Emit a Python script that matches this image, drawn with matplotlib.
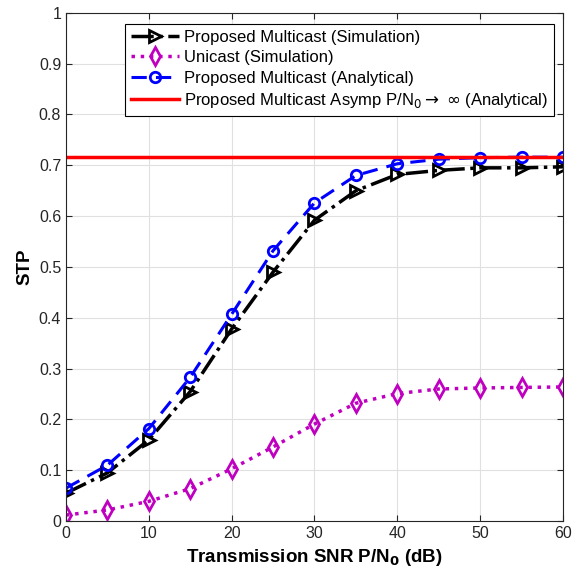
import matplotlib
matplotlib.use("Agg")
import matplotlib.pyplot as plt
import numpy as np

plt.rcParams['font.family'] = ['Liberation Sans', 'DejaVu Sans']
plt.rcParams['mathtext.fontset'] = 'dejavusans'

snr_db = [0, 5, 10, 15, 20, 25, 30, 35, 40, 45, 50, 55, 60]
multicast_sim = [0.055, 0.095, 0.160, 0.255, 0.378, 0.490, 0.592, 0.650, 0.682, 0.690, 0.695, 0.695, 0.697]
unicast_sim = [0.012, 0.022, 0.039, 0.064, 0.103, 0.146, 0.191, 0.232, 0.251, 0.260, 0.262, 0.263, 0.264]
multicast_ana = [0.065, 0.110, 0.182, 0.283, 0.407, 0.532, 0.626, 0.680, 0.703, 0.712, 0.715, 0.716, 0.716]
asymp_value = 0.717

xticks = [0, 10, 20, 30, 40, 50, 60]
yticks = [0, 0.1, 0.2, 0.3, 0.4, 0.5, 0.6, 0.7, 0.8, 0.9, 1]
yticklabels = ['0', '0.1', '0.2', '0.3', '0.4', '0.5', '0.6', '0.7', '0.8', '0.9', '1']

fig = plt.figure(figsize=(5.84, 5.81), dpi=100)
ax = fig.add_axes([0.113, 0.103, 0.851, 0.875])

ax.plot(snr_db, multicast_sim, color='black', linestyle='-.', linewidth=2.5,
        marker='>', markersize=9, markerfacecolor='none', markeredgewidth=2,
        label='Proposed Multicast (Simulation)')
ax.plot(snr_db, unicast_sim, color='#C000C0', linestyle=':', linewidth=2.5,
        marker='d', markersize=9, markerfacecolor='none', markeredgewidth=2,
        label='Unicast (Simulation)')
ax.plot(snr_db, multicast_ana, color='#0000FF', linestyle=(0, (5, 3)), linewidth=2.2,
        marker='o', markersize=7.5, markerfacecolor='none', markeredgewidth=2,
        label='Proposed Multicast (Analytical)')
ax.axhline(asymp_value, color='#FF0000', linewidth=2.5,
           label=r'Proposed Multicast Asymp P/N$_0$$\rightarrow$ $\infty$ (Analytical)')

ax.set_xlim(0, 60)
ax.set_ylim(0, 1)
ax.set_xticks(xticks)
ax.set_yticks(yticks)
ax.set_yticklabels(yticklabels)
ax.tick_params(direction='in', labelsize=11.5, colors='#262626', top=True, right=True, length=4)
ax.grid(True, color='#E0E0E0', linewidth=0.8)
ax.set_axisbelow(True)
for s in ax.spines.values():
    s.set_color('#262626')
    s.set_linewidth(0.8)

ax.set_xlabel(r'Transmission SNR P/N$_\mathbf{0}$ (dB)', fontsize=13.5, fontweight='bold', labelpad=4)
ax.set_ylabel('STP', fontsize=13.5, fontweight='bold')

leg = ax.legend(loc='upper right', bbox_to_anchor=(0.988, 0.985), fontsize=12,
                frameon=True, fancybox=False, edgecolor='black', framealpha=1,
                handlelength=2.9, borderpad=0.35, labelspacing=0.33, handletextpad=0.3,
                borderaxespad=0.2)
leg.get_frame().set_linewidth(0.8)

fig.savefig('out.png', dpi=100)
